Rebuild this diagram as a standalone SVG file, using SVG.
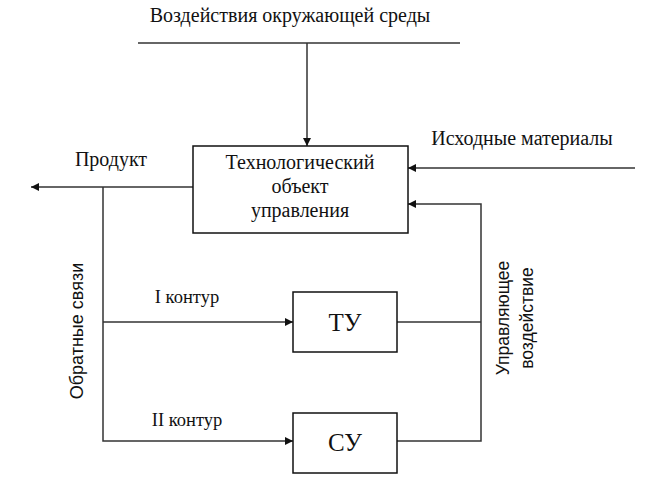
<svg xmlns="http://www.w3.org/2000/svg" width="650" height="482" viewBox="0 0 650 482">
<style>
.t{font-family:"Liberation Serif","Times New Roman",serif;fill:#111;}
.s{font-family:"Liberation Sans",Arial,sans-serif;fill:#111;}
.box{fill:#fff;stroke:#111;stroke-width:1.5;}
.ln{fill:none;stroke:#333;stroke-width:1.5;}
</style>
<defs>
<marker id="ah" viewBox="0 0 10 10" refX="10" refY="5" markerWidth="8" markerHeight="8" markerUnits="userSpaceOnUse" orient="auto">
<path d="M0,0 L10,5 L0,10 z" fill="#111"/>
</marker>
</defs>
<rect width="650" height="482" fill="#fff"/>
<text class="t" x="290" y="22" font-size="20" text-anchor="middle">Воздействия окружающей среды</text>
<text class="t" x="522" y="145" font-size="20" text-anchor="middle">Исходные материалы</text>
<text class="t" x="111" y="166" font-size="20" text-anchor="middle">Продукт</text>
<text class="t" x="187" y="303" font-size="18.5" text-anchor="middle">I контур</text>
<text class="t" x="187" y="426" font-size="18.5" text-anchor="middle">II контур</text>
<text class="s" transform="translate(83,331) rotate(-90)" font-size="18" text-anchor="middle">Обратные связи</text>
<text class="s" transform="translate(509,318) rotate(-90)" font-size="17.5" text-anchor="middle">Управляющее</text>
<text class="s" transform="translate(533,318) rotate(-90)" font-size="17.5" text-anchor="middle">воздействие</text>
<g id="connectors">
<line class="ln" x1="138" y1="43" x2="460" y2="43"/>
<line class="ln" x1="307" y1="43" x2="307" y2="146" marker-end="url(#ah)"/>
<line class="ln" x1="635" y1="168" x2="408" y2="168" marker-end="url(#ah)"/>
<polyline class="ln" points="397,322 481,322"/>
<polyline class="ln" points="397,441 481,441 481,204 408,204" marker-end="url(#ah)"/>
<line class="ln" x1="193" y1="187" x2="31" y2="187" marker-end="url(#ah)"/>
<polyline class="ln" points="103,187 103,441 293,441" marker-end="url(#ah)"/>
<line class="ln" x1="103" y1="322" x2="293" y2="322" marker-end="url(#ah)"/>
</g>
<g id="obj">
<rect class="box" x="193" y="146" width="215" height="87"/>
<text class="t" x="300" y="169" font-size="20" text-anchor="middle">Технологический</text>
<text class="t" x="300" y="193" font-size="20" text-anchor="middle">объект</text>
<text class="t" x="300" y="217" font-size="20" text-anchor="middle">управления</text>
</g>
<g id="tu">
<rect class="box" x="293" y="292" width="104" height="60"/>
<text class="t" x="345" y="331" font-size="25" text-anchor="middle">ТУ</text>
</g>
<g id="su">
<rect class="box" x="293" y="413" width="104" height="60"/>
<text class="t" x="345" y="451" font-size="25" text-anchor="middle">СУ</text>
</g>
</svg>
